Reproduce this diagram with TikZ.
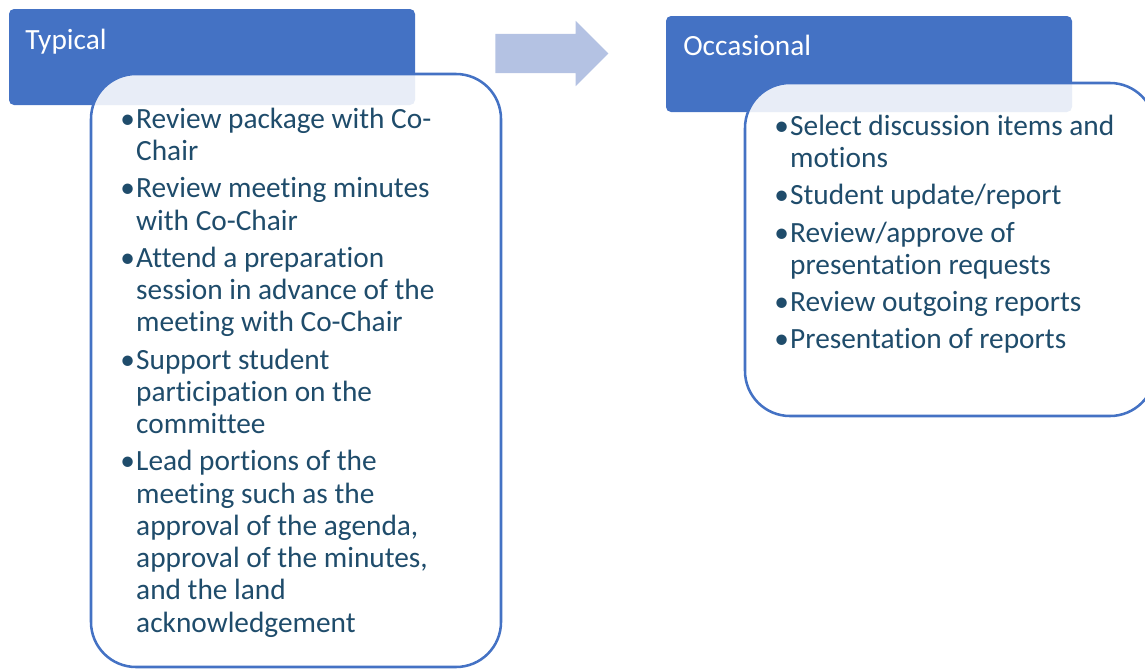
\documentclass[tikz,border=0pt]{standalone}
\usepackage{fontspec}
\setmainfont{Carlito}[Ligatures=NoCommon]
\usetikzlibrary{shapes.arrows}

\definecolor{headblue}{HTML}{4472C4}
\definecolor{arrowblue}{HTML}{B4C2E3}
\definecolor{itemblue}{HTML}{1F4C6B}

\begin{document}
\begin{tikzpicture}[x=0.75pt,y=-0.75pt,
    headbox/.style={fill=headblue, draw=none, rounded corners=3.75pt},
    listbox/.style={draw=headblue, line width=1.9pt, fill=white, fill opacity=0.88,
        draw opacity=1, rounded corners=33.75pt},
    headtext/.style={text=white, inner sep=0pt, anchor=base west,
        font=\fontsize{22}{26}\selectfont},
    itemtext/.style={text=itemblue, inner sep=0pt, anchor=north west,
        font=\fontsize{22}{24.2}\selectfont}]

            \useasboundingbox (0,0) rectangle (1145,668);

            % Typical

            \draw[headbox] (9,9) rectangle (415,105);
            \node[headtext] (typhead) at (25,49) {Typical};

            \draw[listbox] (91,74) rectangle (501,667);

            \node[itemtext] (typlist) at (120,105.4) {%
                \begin{tabular}{@{}l@{\hspace{1pt}}l@{}}
                \textbullet & Review package with Co-\\
                            & Chair\\[3.75pt]
                \textbullet & Review meeting minutes\\
                            & with Co-Chair\\[3.75pt]
                \textbullet & Attend a preparation\\
                            & session in advance of the\\
                            & meeting with Co-Chair\\[3.75pt]
                \textbullet & Support student\\
                            & participation on the\\
                            & committee\\[3.75pt]
                \textbullet & Lead portions of the\\
                            & meeting such as the\\
                            & approval of the agenda,\\
                            & approval of the minutes,\\
                            & and the land\\
                            & acknowledgement
                \end{tabular}};

            % arrow

            \node[single arrow, fill=arrowblue, draw=none, inner xsep=0pt,
                inner ysep=14.6pt, minimum height=84.75pt,
                single arrow head extend=9.75pt] (shiftarrow) at (542,53.5) {};

            % Occasional

            \draw[headbox] (666,16) rectangle (1072,112);
            \node[headtext] (occhead) at (683,55) {Occasional};

            \draw[listbox] (745,83) rectangle (1155,416);

            \node[itemtext] (occlist) at (774,112.4) {%
                \begin{tabular}{@{}l@{\hspace{1pt}}l@{}}
                \textbullet & Select discussion items and\\
                            & motions\\[3.75pt]
                \textbullet & Student update/report\\[3.75pt]
                \textbullet & Review/approve of\\
                            & presentation requests\\[3.75pt]
                \textbullet & Review outgoing reports\\[3.75pt]
                \textbullet & Presentation of reports
                \end{tabular}};
        \end{tikzpicture}
\end{document}
